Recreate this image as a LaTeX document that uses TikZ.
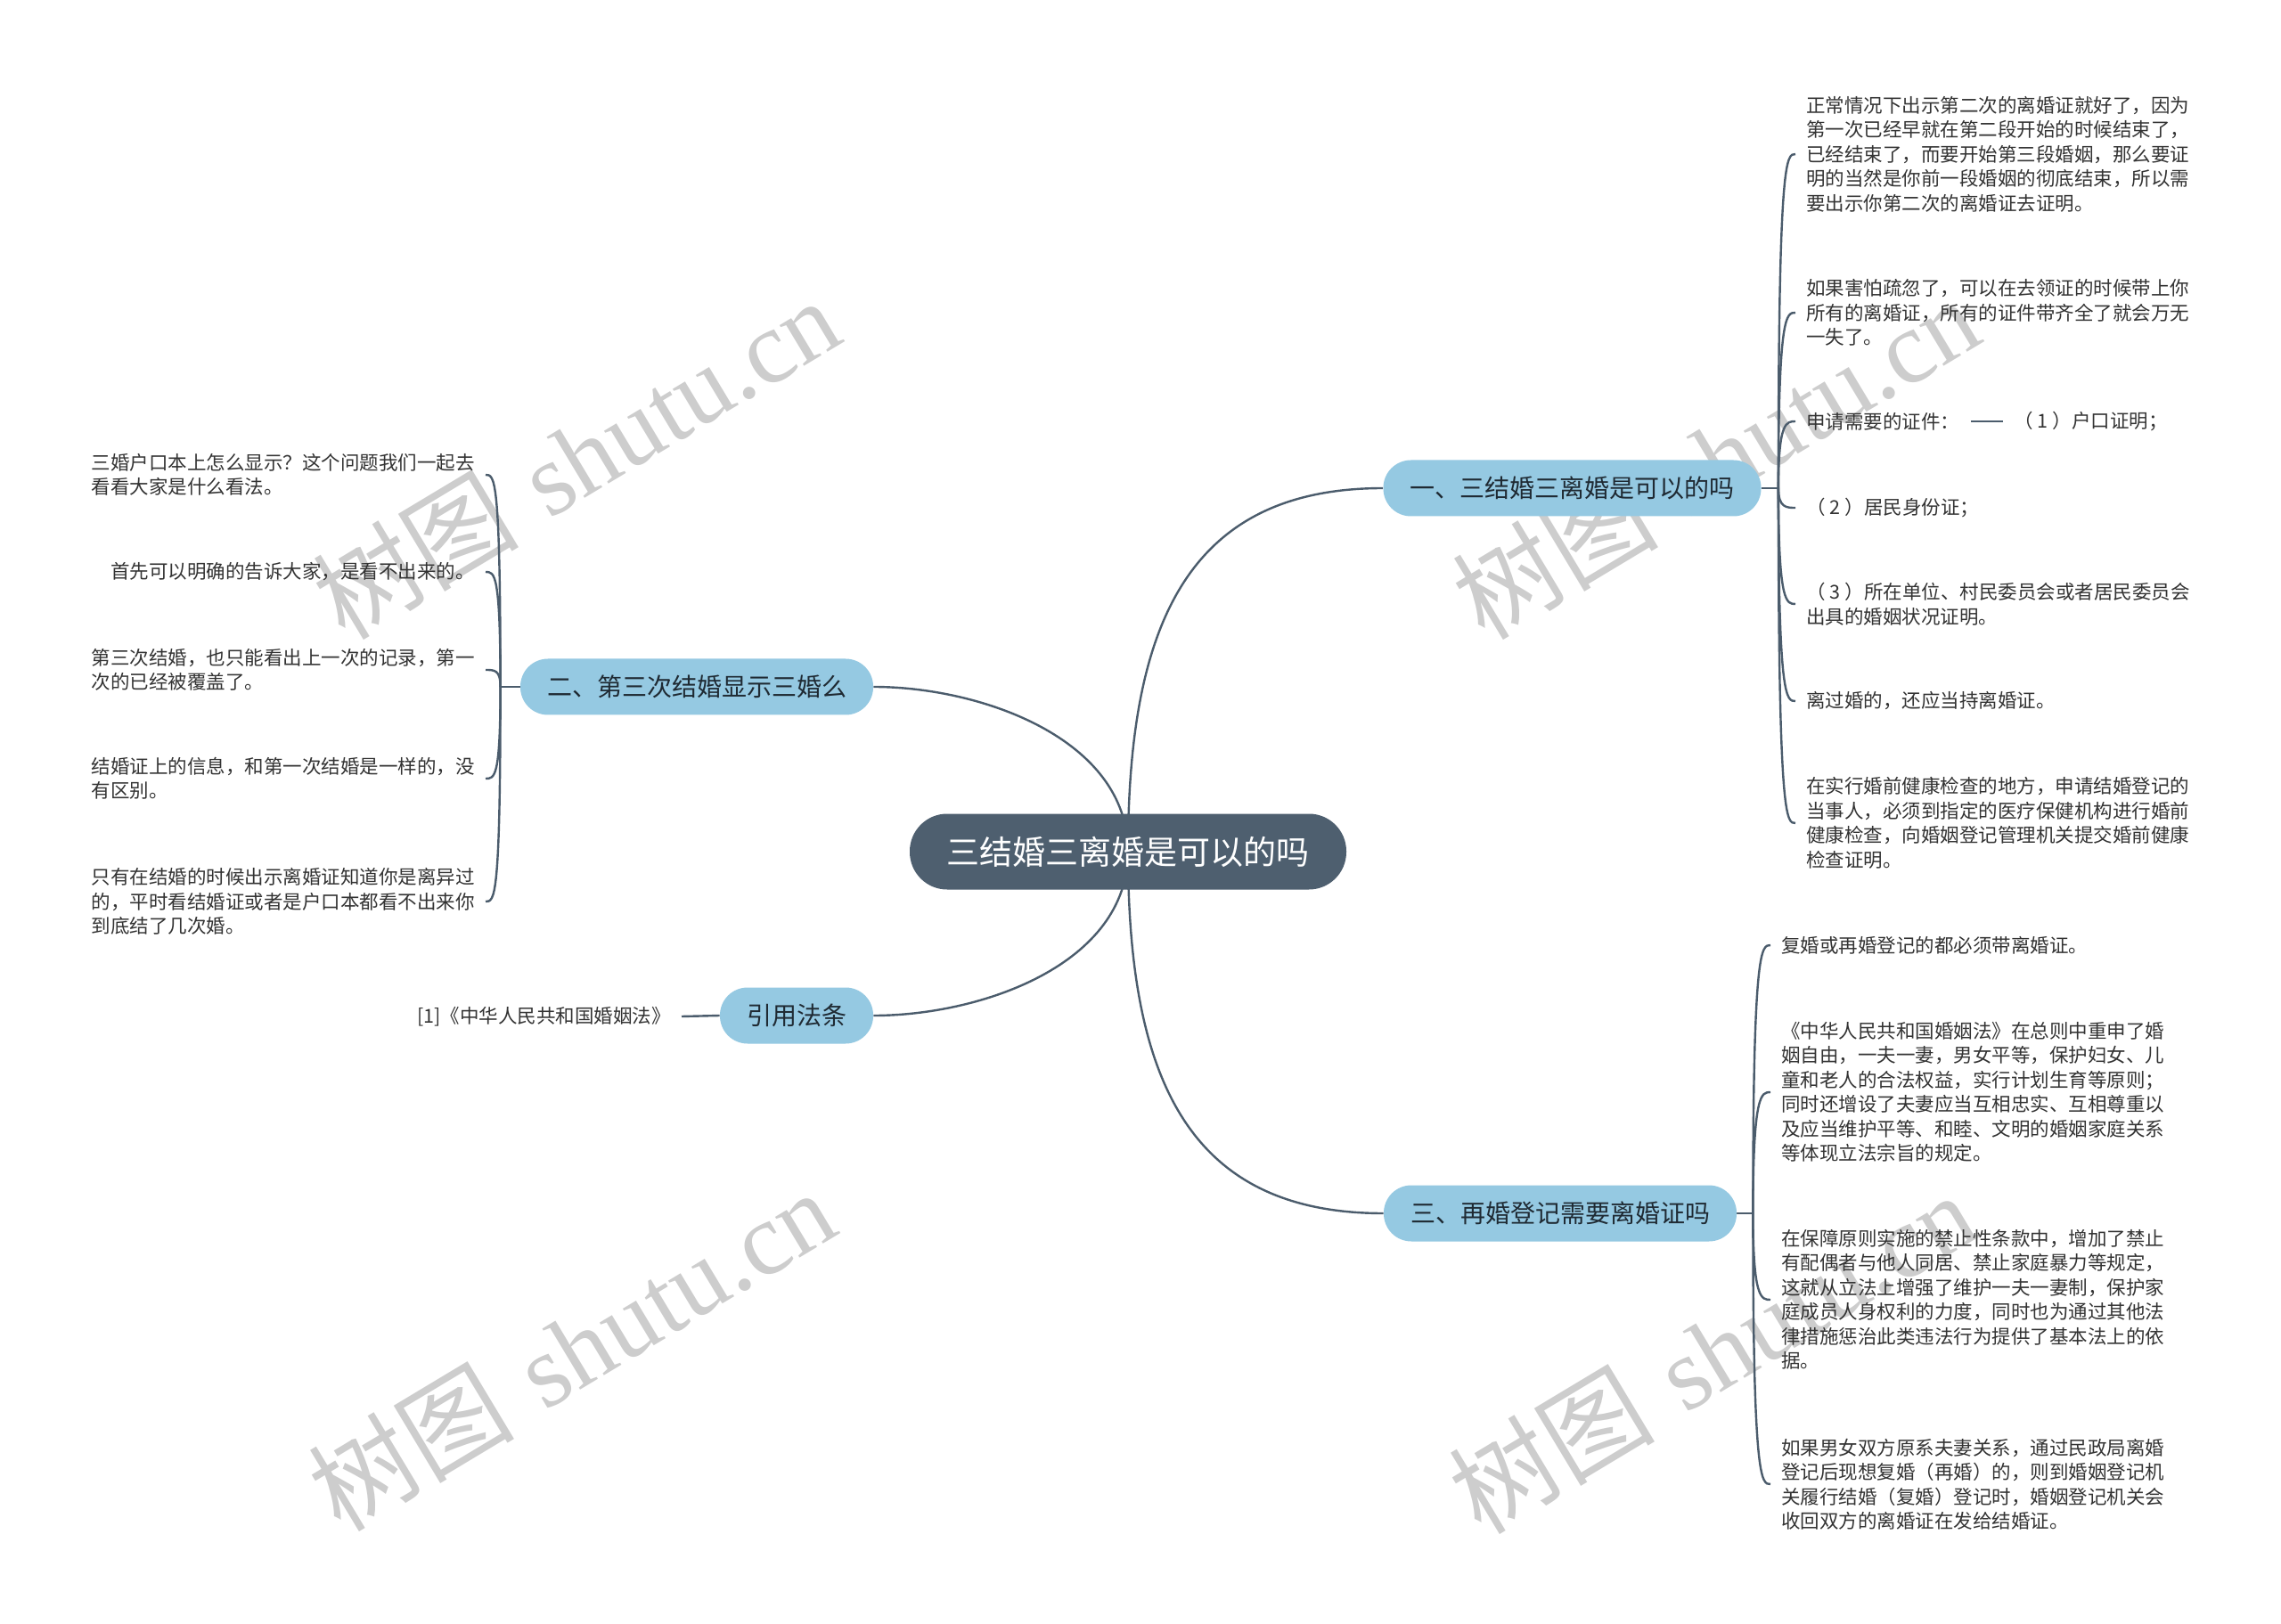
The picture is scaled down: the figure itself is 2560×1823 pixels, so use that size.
\documentclass[tikz,border=0pt]{standalone}
\usepackage{fontspec}
\newfontfamily\cjk[Kerning=Off]{Noto Sans CJK SC}
\newfontfamily\wmlatin{Liberation Serif}
\usetikzlibrary{backgrounds,calc}
\definecolor{linec}{HTML}{4B5C6C}
\definecolor{centralc}{HTML}{4E5F6F}
\definecolor{branchc}{HTML}{95C9E2}
\definecolor{leaftext}{HTML}{333333}
\definecolor{branchtext}{HTML}{1F2A33}
\definecolor{wmc}{HTML}{CDCDCD}
\newcommand\numpar[1]{（\hspace{0.23em}#1\hspace{0.23em}）}
\begin{document}
\begin{tikzpicture}[x=0.5pt,y=-0.5pt,
  central/.style={fill=centralc, text=white, rounded corners=21pt, minimum height=42.5pt, inner xsep=20.75pt, inner ysep=0pt, font=\cjk\fontsize{18.5pt}{22pt}\selectfont},
  branch/.style={fill=branchc, text=branchtext, rounded corners=15.5pt, minimum height=31.5pt, inner xsep=15pt, inner ysep=0pt, font=\cjk\fontsize{14pt}{17pt}\selectfont},
  leaf/.style={text=leaftext, align=left, inner xsep=6pt, inner ysep=0pt, font=\cjk\fontsize{10.75pt}{13.75pt}\selectfont},
  conn/.style={draw=linec, line width=1.2pt},
  wm/.style={text=wmc, rotate=31, inner sep=0pt, font=\fontsize{58pt}{64pt}\selectfont}
]
\useasboundingbox (0,0) rectangle (2560,1823);

% main nodes
\node[central] (c) at (1266,956) {三结婚三离婚是可以的吗};
\node[branch] (n1) at (1764.5,548) {一、三结婚三离婚是可以的吗};
\node[branch] (n2) at (782,771) {二、第三次结婚显示三婚么};
\node[branch] (nr) at (894,1140) {引用法条};
\node[branch] (n3) at (1751,1362) {三、再婚登记需要离婚证吗};

\coordinate (t1) at ($(n1.east)+(19,0)$);
\coordinate (t3) at ($(n3.east)+(18,0)$);
\coordinate (t2) at ($(n2.west)+(-22,0)$);

% branch 1 leaves
\node[leaf, anchor=west] (a1) at (2015,173) {正常情况下出示第二次的离婚证就好了，因为\\第一次已经早就在第二段开始的时候结束了，\\已经结束了，而要开始第三段婚姻，那么要证\\明的当然是你前一段婚姻的彻底结束，所以需\\要出示你第二次的离婚证去证明。};
\node[leaf, anchor=west] (a2) at (2015,351) {如果害怕疏忽了，可以在去领证的时候带上你\\所有的离婚证，所有的证件带齐全了就会万无\\一失了。};
\node[leaf, anchor=west] (a3) at (2015,473) {申请需要的证件：};
\node[leaf, anchor=west] (a3c) at (2248,473) {\numpar{1}户口证明；};
\node[leaf, anchor=west] (a4) at (2015,570) {\numpar{2}居民身份证；};
\node[leaf, anchor=west] (a5) at (2015,678) {\numpar{3}所在单位、村民委员会或者居民委员会\\出具的婚姻状况证明。};
\node[leaf, anchor=west] (a6) at (2015,787) {离过婚的，还应当持离婚证。};
\node[leaf, anchor=west] (a7) at (2015,924) {在实行婚前健康检查的地方，申请结婚登记的\\当事人，必须到指定的医疗保健机构进行婚前\\健康检查，向婚姻登记管理机关提交婚前健康\\检查证明。};

% branch 3 leaves
\node[leaf, anchor=west] (b1) at (1987,1061) {复婚或再婚登记的都必须带离婚证。};
\node[leaf, anchor=west] (b2) at (1987,1226) {《中华人民共和国婚姻法》在总则中重申了婚\\姻自由，一夫一妻，男女平等，保护妇女、儿\\童和老人的合法权益，实行计划生育等原则；\\同时还增设了夫妻应当互相忠实、互相尊重以\\及应当维护平等、和睦、文明的婚姻家庭关系\\等体现立法宗旨的规定。};
\node[leaf, anchor=west] (b3) at (1987,1459) {在保障原则实施的禁止性条款中，增加了禁止\\有配偶者与他人同居、禁止家庭暴力等规定，\\这就从立法上增强了维护一夫一妻制，保护家\\庭成员人身权利的力度，同时也为通过其他法\\律措施惩治此类违法行为提供了基本法上的依\\据。};
\node[leaf, anchor=west] (b4) at (1987,1666) {如果男女双方原系夫妻关系，通过民政局离婚\\登记后现想复婚（再婚）的，则到婚姻登记机\\关履行结婚（复婚）登记时，婚姻登记机关会\\收回双方的离婚证在发给结婚证。};

% branch 2 leaves
\node[leaf, anchor=east] (l1) at (545,533) {三婚户口本上怎么显示？这个问题我们一起去\\看看大家是什么看法。};
\node[leaf, anchor=east] (l2) at (545,642) {首先可以明确的告诉大家，是看不出来的。};
\node[leaf, anchor=east] (l3) at (545,752) {第三次结婚，也只能看出上一次的记录，第一\\次的已经被覆盖了。};
\node[leaf, anchor=east] (l4) at (545,874) {结婚证上的信息，和第一次结婚是一样的，没\\有区别。};
\node[leaf, anchor=east] (l5) at (545,1012) {只有在结婚的时候出示离婚证知道你是离异过\\的，平时看结婚证或者是户口本都看不出来你\\到底结了几次婚。};

% reference leaf
\node[leaf, anchor=east] (r1) at (765,1141) {[1]《中华人民共和国婚姻法》};

\begin{pgfonlayer}{background}
  \fill[white] (0,0) rectangle (2560,1823);
  % watermarks
  \node[wm] (w1) at (646,514) {{\cjk 树图} {\wmlatin shutu.cn}};
  \node[wm] (w2) at (1925,514) {{\cjk 树图} {\wmlatin shutu.cn}};
  \node[wm] (w3) at (641,1515) {{\cjk 树图} {\wmlatin shutu.cn}};
  \node[wm] (w4) at (1921,1518) {{\cjk 树图} {\wmlatin shutu.cn}};
  % central connectors
  \draw[conn] (c.center) .. controls +(0,-257) and +(-218,0) .. (n1.west);
  \draw[conn] (c.center) .. controls +(0,257) and +(-218,0) .. (n3.west);
  \draw[conn] (c.center) .. controls +(0,-127) and +(120,0) .. (n2.east);
  \draw[conn] (c.center) .. controls +(0,127) and +(120,0) .. (nr.east);
  % branch 1
  \draw[conn] (n1.east) -- (t1);
  \foreach \l in {a1,a2,a3,a4,a5,a6,a7}
    \draw[conn] (t1) .. controls (t1 |- \l.west) and +(-10,0) .. (\l.west);
  \draw[conn] (a3.east) -- (a3c.west);
  % branch 3
  \draw[conn] (n3.east) -- (t3);
  \foreach \l in {b1,b2,b3,b4}
    \draw[conn] (t3) .. controls (t3 |- \l.west) and +(-10,0) .. (\l.west);
  % branch 2
  \draw[conn] (n2.west) -- (t2);
  \foreach \l in {l1,l2,l3,l4,l5}
    \draw[conn] (t2) .. controls (t2 |- \l.east) and +(10,0) .. (\l.east);
  % reference
  \draw[conn] (nr.west) -- (r1.east);
\end{pgfonlayer}
\end{tikzpicture}
\end{document}
